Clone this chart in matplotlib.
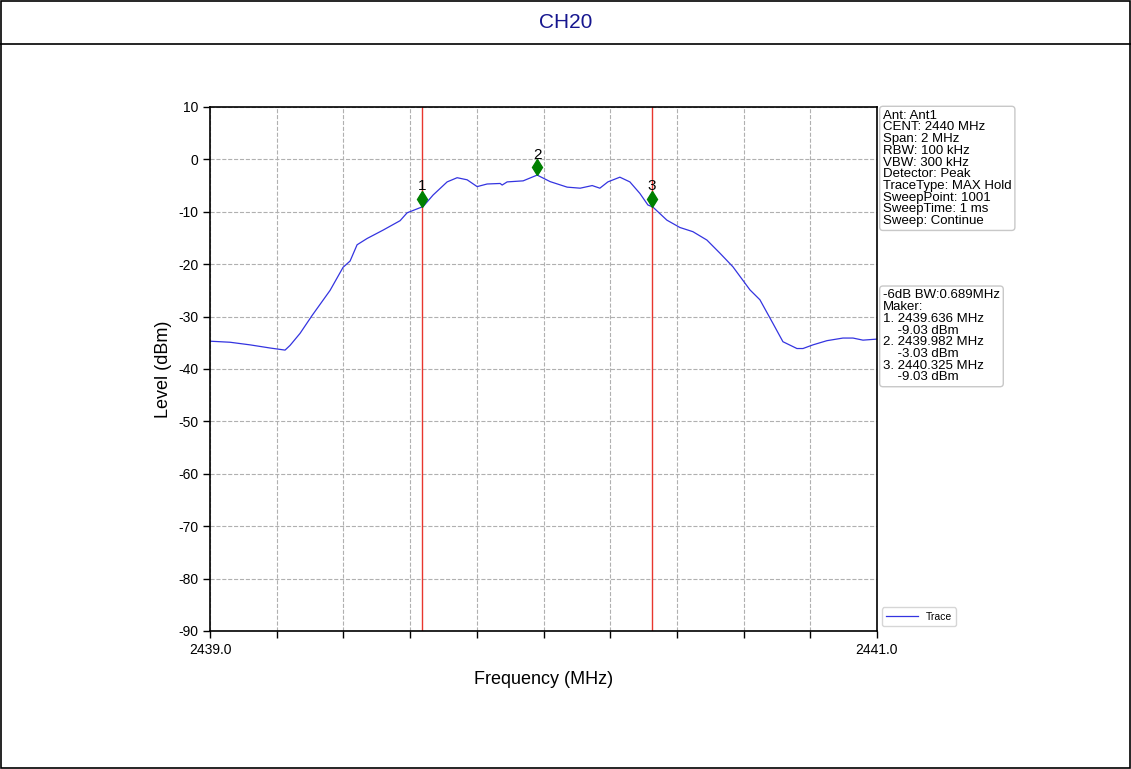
import matplotlib
matplotlib.use("Agg")
import matplotlib.pyplot as plt
from matplotlib.patches import Rectangle

plt.rcParams['font.family'] = ['Liberation Sans', 'DejaVu Sans']
plt.rcParams['axes.unicode_minus'] = False

# trace (MHz, dBm)
freq = [2439.000, 2439.060, 2439.120, 2439.180, 2439.225, 2439.240, 2439.270,
        2439.306, 2439.360, 2439.399, 2439.420, 2439.441, 2439.471, 2439.519,
        2439.570, 2439.591, 2439.639, 2439.669, 2439.711, 2439.741, 2439.771,
        2439.801, 2439.831, 2439.870, 2439.876, 2439.891, 2439.939, 2439.981,
        2440.020, 2440.071, 2440.110, 2440.146, 2440.169, 2440.193, 2440.229,
        2440.259, 2440.289, 2440.313, 2440.328, 2440.370, 2440.409, 2440.448,
        2440.490, 2440.529, 2440.568, 2440.619, 2440.649, 2440.688, 2440.718,
        2440.760, 2440.778, 2440.808, 2440.850, 2440.898, 2440.928, 2440.958,
        2441.000]
level = [-34.7, -34.9, -35.4, -36.0, -36.4, -35.5, -33.2,
         -29.8, -25.0, -20.6, -19.4, -16.3, -15.1, -13.5,
         -11.7, -10.2, -9.0, -6.8, -4.3, -3.5, -3.9,
         -5.2, -4.7, -4.6, -4.9, -4.3, -4.1, -3.0,
         -4.25, -5.3, -5.5, -5.0, -5.5, -4.3, -3.4,
         -4.3, -6.5, -8.7, -9.1, -11.6, -13.0, -13.8,
         -15.4, -17.9, -20.5, -24.9, -26.8, -31.3, -34.8,
         -36.1, -36.1, -35.4, -34.6, -34.1, -34.1, -34.5,
         -34.3]

marker_freq = [2439.636, 2439.982, 2440.325]
marker_level = [-9.03, -3.03, -9.03]
marker_names = ['1', '2', '3']
# -6 dB edges get the red lines
edge_freq = [2439.636, 2440.325]

info_text = ("Ant: Ant1\nCENT: 2440 MHz\nSpan: 2 MHz\nRBW: 100 kHz\nVBW: 300 kHz\n"
             "Detector: Peak\nTraceType: MAX Hold\nSweepPoint: 1001\n"
             "SweepTime: 1 ms\nSweep: Continue")
marker_text = ("-6dB BW:0.689MHz\nMaker:\n1. 2439.636 MHz\n    -9.03 dBm\n"
               "2. 2439.982 MHz\n    -3.03 dBm\n3. 2440.325 MHz\n    -9.03 dBm")

fig = plt.figure(figsize=(11.31, 7.69), dpi=100)

# table frame with title cell
fig.patches.append(Rectangle((0.001, 0.001), 0.998, 0.998, transform=fig.transFigure,
                             fill=False, edgecolor='black', lw=1.2))
fig.add_artist(plt.Line2D([0, 1], [0.943, 0.943], transform=fig.transFigure,
                          color='black', lw=1.2))
fig.text(0.5, 0.971, 'CH20', ha='center', va='center', fontsize=15, color='#16168f')

ax = fig.add_axes([0.1857, 0.1795, 0.5897, 0.6814])
ax.plot(freq, level, color='#3434e0', lw=0.9, label='Trace')

for f in edge_freq:
    ax.axvline(f, color='#e8362e', lw=1.0)
for f, l, n in zip(marker_freq, marker_level, marker_names):
    ax.plot(f, l + 1.5, marker='d', color='green', markersize=8)
    ax.text(f, l + 2.6, n, ha='center', va='bottom', fontsize=11)

ax.set_xlim(2439, 2441)
ax.set_ylim(-90, 10)
xt = [2439 + 0.2 * i for i in range(11)]
ax.set_xticks(xt)
ax.set_xticklabels(['2439.0'] + [''] * 9 + ['2441.0'])
ax.set_yticks(range(-90, 11, 10))
ax.tick_params(labelsize=10, length=5, width=1)
ax.grid(True, color='#b0b0b0', linestyle='--', lw=0.8)
for s in ax.spines.values():
    s.set_linewidth(1.2)
ax.set_xlabel('Frequency (MHz)', fontsize=13, labelpad=10)
ax.set_ylabel('Level (dBm)', fontsize=13)

box = dict(boxstyle='round,pad=0.25', facecolor='white', edgecolor='#c8c8c8', lw=1)
ax.text(1.009, 0.995, info_text, transform=ax.transAxes, va='top', ha='left',
        fontsize=9.5, linespacing=0.97, bbox=box)
ax.text(1.009, 0.652, marker_text, transform=ax.transAxes, va='top', ha='left',
        fontsize=9.5, linespacing=0.97, bbox=box)

ax.legend(loc='lower left', bbox_to_anchor=(1.0, 0.0), fontsize=7.5, frameon=True,
          handlelength=3)

fig.savefig('out.png', dpi=100)
